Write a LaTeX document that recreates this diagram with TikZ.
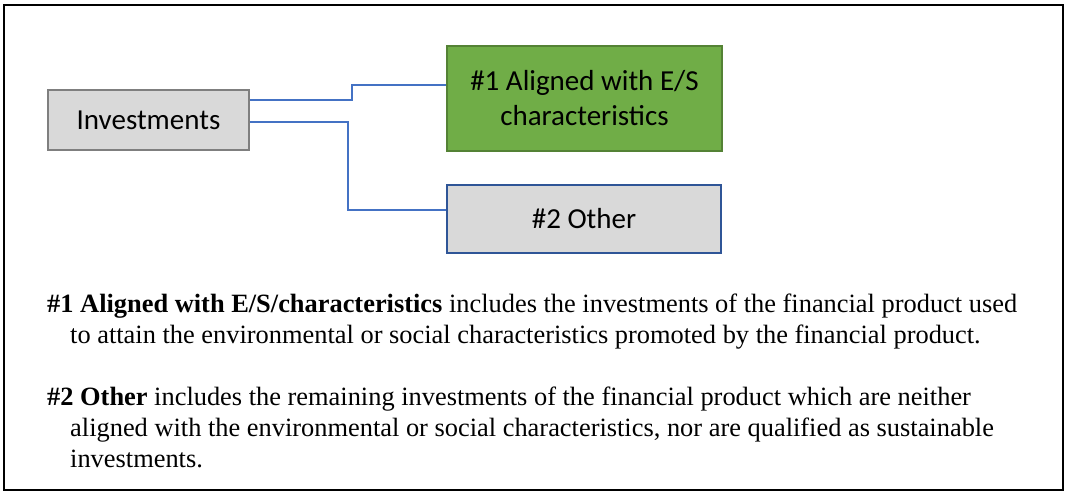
\documentclass[tikz,border=0pt]{standalone}
\usepackage{fontspec}
\setmainfont{Liberation Serif}
\newfontfamily\boxfont{Carlito}
\definecolor{boxgray}{HTML}{D9D9D9}
\definecolor{boxedge}{HTML}{7F7F7F}
\definecolor{greenfill}{HTML}{70AD47}
\definecolor{greenedge}{HTML}{548235}
\definecolor{blueedge}{HTML}{2F5597}
\definecolor{connblue}{HTML}{4472C4}
\begin{document}
\begin{tikzpicture}[x=1pt,y=-1pt,
  box/.style={draw, line width=1.8pt, inner sep=0pt, align=center,
    font=\boxfont\fontsize{29}{35}\selectfont},
  conn/.style={draw=connblue, line width=1.3pt},
  line/.style={anchor=base west, inner sep=0pt,
    font=\fontsize{26.4}{31}\selectfont}]
\useasboundingbox (0,0) rectangle (1068,492);
\draw[line width=1.2pt] (4,5) rectangle (1063,490);
\node[box, draw=boxedge, fill=boxgray, minimum width=201pt, minimum height=60pt] (inv) at (148.5,120) {Investments};
\node[box, draw=greenedge, fill=greenfill, minimum width=275pt, minimum height=105pt, line width=1.5pt] (g1) at (584.5,98.5) {\#1 Aligned with E/S\\characteristics};
\node[box, draw=blueedge, fill=boxgray, minimum width=274pt, minimum height=68pt] (oth) at (584,219) {\#2 Other};
\draw[conn] ([yshift=20pt]inv.east) -- ++(102,0) |- ([yshift=13.5pt]g1.west);
\draw[conn] ([yshift=-2pt]inv.east) -- ++(98,0) |- ([yshift=9pt]oth.west);
\node[line] (l1) at (47,312) {\textbf{\#1 Aligned with E/S/characteristics} includes the investments of the financial product used};
\node[line] (l2) at (70,343) {to attain the environmental or social characteristics promoted by the financial product.};
\node[line] (l3) at (47,405) {\textbf{\#2 Other} includes the remaining investments of the financial product which are neither};
\node[line] (l4) at (70,436) {aligned with the environmental or social characteristics, nor are qualified as sustainable};
\node[line] (l5) at (70,467) {investments.};
\end{tikzpicture}
\end{document}
